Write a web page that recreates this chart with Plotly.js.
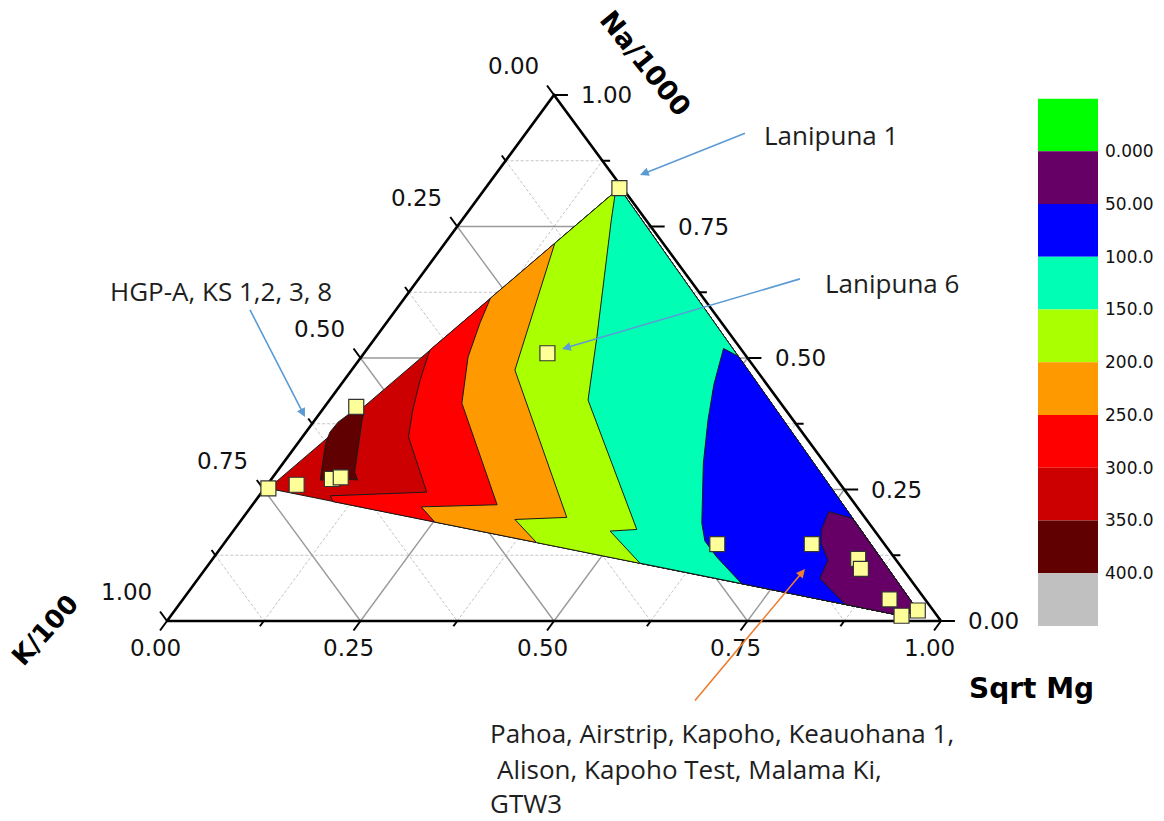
<!DOCTYPE html>
<html>
<head>
<meta charset="utf-8">
<script src="https://cdn.plot.ly/plotly-3.0.1.min.js"></script>
<style>
  html, body { margin: 0; padding: 0; background: #ffffff; }
  #chart { width: 1164px; height: 821px; }
</style>
</head>
<body>
<div id="chart"></div>
<script>
// ---- Sample compositions (normalised fractions: Sqrt Mg, Na/1000, K/100) ----
const sampleMg = [0.005, 0.038, 0.041, 0.078, 0.088, 0.173, 0.237, 0.638, 0.760, 0.834, 0.847, 0.913, 0.960, 0.944];
const sampleNa = [0.252, 0.259, 0.407, 0.270, 0.273, 0.823, 0.509, 0.146, 0.146, 0.118, 0.099, 0.041, 0.020, 0.010];
const sampleK  = [0.743, 0.703, 0.552, 0.652, 0.639, 0.004, 0.254, 0.216, 0.094, 0.048, 0.054, 0.046, 0.020, 0.046];

// Convex hull of the samples (indices into the sample arrays)
const hullIdx = [0, 5, 12, 13];

// ---- Temperature isolines, vertices as [Sqrt Mg, Na] ----
// open isolines run from the upper hull edge to the lower hull edge
const iso300 = [[0.082,0.515],[0.098,0.458],[0.117,0.401],[0.137,0.350],[0.213,0.245],[0.092,0.238],[0.101,0.227]];
const iso250 = [[0.111,0.614],[0.121,0.567],[0.138,0.502],[0.174,0.414],[0.316,0.221],[0.220,0.217],[0.252,0.188]];
const iso200 = [[0.142,0.718],[0.178,0.591],[0.211,0.477],[0.418,0.197],[0.353,0.193],[0.403,0.149]];
const iso150 = [[0.171,0.817],[0.193,0.762],[0.285,0.541],[0.327,0.439],[0.334,0.420],[0.520,0.174],[0.487,0.171],[0.556,0.110]];
const iso100 = [[0.487,0.503],[0.460,0.518],[0.482,0.449],[0.508,0.382],[0.543,0.300],[0.598,0.186],[0.619,0.152],[0.649,0.122],[0.707,0.071]];
const iso50  = [[0.788,0.195],[0.751,0.208],[0.759,0.173],[0.771,0.148],[0.796,0.116],[0.803,0.081],[0.860,0.032]];
// closed island above 350
const iso350 = [[0.039,0.395],[0.032,0.378],[0.031,0.359],[0.036,0.338],[0.047,0.310],[0.056,0.287],[0.064,0.268],
                [0.095,0.270],[0.112,0.268],[0.101,0.283],[0.084,0.325],[0.061,0.382],[0.057,0.395]];

// ---- Colour scale ----
const bandEdges  = [-50, 0, 50, 100, 150, 200, 250, 300, 350, 400, 450];
const bandColors = ['#00ff00','#660066','#0000ff','#00ffb4','#aaff00','#ff9900','#ff0000','#cc0000','#600000','#c0c0c0'];
const scaleTicks = [0, 50, 100, 150, 200, 250, 300, 350, 400];
const scaleText  = ['0.000','50.00','100.0','150.0','200.0','250.0','300.0','350.0','400.0'];

// ---- Ternary axes ----
const axisTicks  = [0, 0.125, 0.25, 0.375, 0.5, 0.625, 0.75, 0.875, 1];
const axisLabelV = [0, 0.25, 0.5, 0.75, 1];
const axisLabels = ['0.00', '0.25', '0.50', '0.75', '1.00'];
const majorGrid  = [0.25, 0.5, 0.75];
const minorGrid  = [0.125, 0.375, 0.625, 0.875];

// ternary (Mg, Na, K) -> cartesian; Mg corner at right, Na at top, K at left
function tern(mg, na, k) {
  if (k === undefined) k = 1 - mg - na;
  const s = mg + na + k;
  return [(mg + na / 2) / s, na / s];
}
function pathXY(pts) {
  const x = [], y = [];
  pts.forEach(p => { const c = tern(p[0], p[1], p[2]); x.push(c[0]); y.push(c[1]); });
  return {x, y};
}
function segsXY(segs) {
  const x = [], y = [];
  segs.forEach(s => {
    s.forEach(p => { const c = tern(p[0], p[1], p[2]); x.push(c[0]); y.push(c[1]); });
    x.push(null); y.push(null);
  });
  return {x, y};
}

const hullPts = hullIdx.map(i => [sampleMg[i], sampleNa[i], sampleK[i]]);
const hTop = hullPts[1], hBR = hullPts[2], hBL = hullPts[3];

const traces = [];

// grid lines (three families)
function gridSegs(levels) {
  const s = [];
  levels.forEach(v => {
    s.push([[v, 0], [v, 1 - v]]);          // constant Sqrt Mg
    s.push([[0, v], [1 - v, v]]);          // constant Na
    s.push([[0, 1 - v], [1 - v, 0]]);      // constant K
  });
  return s;
}
const gMinor = segsXY(gridSegs(minorGrid));
traces.push({x: gMinor.x, y: gMinor.y, mode: 'lines', hoverinfo: 'skip',
  line: {color: '#c4c4c4', width: 1, dash: '3px,2px'}});
const gMajor = segsXY(gridSegs(majorGrid));
traces.push({x: gMajor.x, y: gMajor.y, mode: 'lines', hoverinfo: 'skip',
  line: {color: '#9a9a9a', width: 1.4}});

// filled bands (painted from the hot side towards the cold side)
const outline = {color: '#1a1a1a', width: 1};
function region(pts, color) {
  const p = pathXY(pts);
  p.x.push(p.x[0]); p.y.push(p.y[0]);
  traces.push({x: p.x, y: p.y, mode: 'lines', fill: 'toself', fillcolor: color,
    line: outline, hoverinfo: 'skip'});
}
region(hullPts, bandColors[7]);
region(iso300.concat([hBL, hBR, hTop]), bandColors[6]);
region(iso350, bandColors[8]);
region(iso250.concat([hBL, hBR, hTop]), bandColors[5]);
region(iso200.concat([hBL, hBR, hTop]), bandColors[4]);
region(iso150.concat([hBL, hBR, hTop]), bandColors[3]);
region(iso100.concat([hBL, hBR]), bandColors[2]);
region(iso50.concat([hBL, hBR]), bandColors[1]);

// triangle frame
const frame = pathXY([[0,0,1],[1,0,0],[0,1,0],[0,0,1]]);
traces.push({x: frame.x, y: frame.y, mode: 'lines', hoverinfo: 'skip',
  line: {color: '#000000', width: 2.6}});

// tick marks: extensions of the grid lines outside the frame
const tickSegs = [];
axisTicks.forEach(v => {
  const t = (Math.abs(v * 4 - Math.round(v * 4)) < 1e-9) ? 0.018 : 0.010;
  tickSegs.push([[v, 0, 1 - v], [v, -t, 1 - v + t]]);            // Sqrt Mg (bottom)
  tickSegs.push([[1 - v, v, 0], [1 - v + t, v, -t]]);            // Na (right)
  tickSegs.push([[0, 1 - v, v], [-t, 1 - v + t, v]]);            // K (left)
});
const tk = segsXY(tickSegs);
traces.push({x: tk.x, y: tk.y, mode: 'lines', hoverinfo: 'skip',
  line: {color: '#000000', width: 2}});

// samples
const sp = pathXY(sampleMg.map((m, i) => [m, sampleNa[i], sampleK[i]]));
traces.push({x: sp.x, y: sp.y, mode: 'markers', hoverinfo: 'skip',
  marker: {symbol: 'square', size: 15, color: '#ffff99', line: {color: '#333333', width: 1.2}}});

// colour scale column
traces.push({
  type: 'bar', xaxis: 'x2', yaxis: 'y2', hoverinfo: 'skip',
  x: bandColors.map(() => 0),
  y: bandColors.map((c, i) => bandEdges[i + 1] - bandEdges[i]),
  base: bandColors.map((c, i) => bandEdges[i]),
  width: 1,
  marker: {color: bandColors, line: {width: 0}}
});

// ---- annotations ----
const tickFont = {family: 'DejaVu Sans, sans-serif', size: 23, color: '#111111'};
const annotations = [];
axisLabelV.forEach((v, i) => {
  let c = tern(v, 0);
  annotations.push({x: c[0], y: c[1], xref: 'x', yref: 'y', text: axisLabels[i], showarrow: false,
    xanchor: 'center', yanchor: 'middle', xshift: -12, yshift: -27, font: tickFont});
  c = tern(1 - v, v);
  annotations.push({x: c[0], y: c[1], xref: 'x', yref: 'y', text: axisLabels[i], showarrow: false,
    xanchor: 'left', yanchor: 'middle', xshift: 25, yshift: 0, font: tickFont});
  c = tern(0, 1 - v);
  annotations.push({x: c[0], y: c[1], xref: 'x', yref: 'y', text: axisLabels[i], showarrow: false,
    xanchor: 'center', yanchor: 'middle', xshift: -41, yshift: 29, font: tickFont});
});

const titleFont = {family: 'DejaVu Sans, sans-serif', size: 28, color: '#000000', weight: 'bold'};
annotations.push({xref: 'paper', yref: 'paper', x: 1031.5 / 1164, y: 1 - 688 / 821, text: '<b>Sqrt Mg</b>',
  showarrow: false, xanchor: 'center', yanchor: 'middle', font: titleFont});
annotations.push({xref: 'paper', yref: 'paper', x: 45 / 1164, y: 1 - 630 / 821, text: '<b>K/100</b>',
  showarrow: false, xanchor: 'center', yanchor: 'middle', textangle: -48,
  font: Object.assign({}, titleFont, {size: 26})});
annotations.push({xref: 'paper', yref: 'paper', x: 646 / 1164, y: 1 - 63 / 821, text: '<b>Na/1000</b>',
  showarrow: false, xanchor: 'center', yanchor: 'middle', textangle: 51,
  font: Object.assign({}, titleFont, {size: 27})});

// site labels
const labelFont = {family: 'Open Sans, sans-serif', size: 26, color: '#1e1e1e'};
const siteLabels = [
  {text: 'Lanipuna 1', px: 762, py: 135},
  {text: 'Lanipuna 6', px: 823, py: 283},
  {text: 'HGP-A, KS 1,2, 3, 8', px: 108, py: 291},
  {text: 'Pahoa, Airstrip, Kapoho, Keauohana 1,', px: 488, py: 733},
  {text: 'Alison, Kapoho Test, Malama Ki,', px: 495, py: 769},
  {text: 'GTW3', px: 488, py: 803}
];
siteLabels.forEach(l => annotations.push({xref: 'paper', yref: 'paper', x: l.px / 1164, y: 1 - l.py / 821,
  text: l.text, showarrow: false, xanchor: 'left', yanchor: 'middle', font: labelFont}));

// leader arrows: head position and tail offset (pixels)
const leaders = [
  {hx: 640, hy: 175, ax: 108, ay: -43, color: '#5b9bd5'},
  {hx: 562, hy: 349, ax: 241, ay: -71, color: '#5b9bd5'},
  {hx: 305, hy: 417, ax: -58, ay: -113, color: '#5b9bd5'},
  {hx: 805, hy: 569, ax: -113, ay: 135, color: '#ed7d31'}
];
leaders.forEach(a => annotations.push({xref: 'paper', yref: 'paper', x: a.hx / 1164, y: 1 - a.hy / 821,
  text: ' ', showarrow: true, arrowhead: 2, arrowsize: 1.1, arrowwidth: 1.6, arrowcolor: a.color,
  ax: a.ax, ay: a.ay, standoff: 0, startstandoff: 0}));

const layout = {
  width: 1164, height: 821,
  margin: {l: 0, r: 0, t: 0, b: 0},
  paper_bgcolor: '#ffffff', plot_bgcolor: 'rgba(0,0,0,0)',
  showlegend: false, hovermode: false,
  xaxis: {range: [-167 / 774, (1164 - 167) / 774], visible: false, fixedrange: true},
  yaxis: {range: [-200 / 526, 621 / 526], visible: false, fixedrange: true},
  xaxis2: {domain: [1038 / 1164, 1098 / 1164], anchor: 'y2', range: [-0.5, 0.5], visible: false, fixedrange: true},
  yaxis2: {domain: [1 - 626 / 821, 1 - 98.5 / 821], anchor: 'x2', side: 'right', range: [450, -50],
    tickvals: scaleTicks, ticktext: scaleText, ticks: '', showgrid: false, zeroline: false, showline: false,
    ticklabelstandoff: 6, tickfont: {family: 'DejaVu Sans, sans-serif', size: 17, color: '#111111'}, fixedrange: true},
  annotations: annotations
};

Plotly.newPlot('chart', traces, layout, {displayModeBar: false, staticPlot: true});
</script>
</body>
</html>
